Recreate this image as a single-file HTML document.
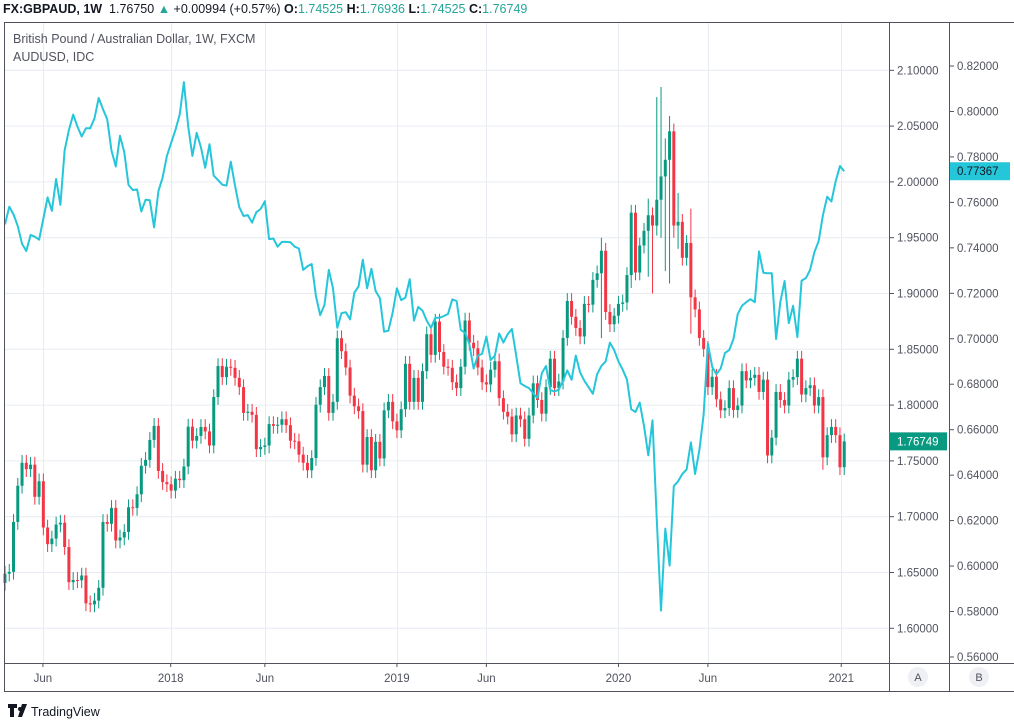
<!DOCTYPE html>
<html><head><meta charset="utf-8">
<style>
html,body{margin:0;padding:0;background:#fff;}
body{width:1014px;height:725px;overflow:hidden;font-family:"Liberation Sans",sans-serif;position:relative;}
.hdr{position:absolute;left:3px;top:2px;font-size:12.5px;color:#131722;white-space:nowrap;}
.hdr b{font-weight:bold}
.g{color:#26a69a}
.leg{position:absolute;left:13px;font-size:12.5px;color:#50535e;white-space:nowrap;}
svg{position:absolute;left:0;top:0;}
</style></head>
<body>
<div class="hdr"><b>FX:GBPAUD, 1W</b>&nbsp; 1.76750 <span class="g">&#9650;</span> +0.00994 (+0.57%) <b>O:</b><span class="g">1.74525</span> <b>H:</b><span class="g">1.76936</span> <b>L:</b><span class="g">1.74525</span> <b>C:</b><span class="g">1.76749</span></div>
<svg id="chart" width="1014" height="725"></svg>
<div class="leg" style="top:32px">British Pound / Australian Dollar, 1W, FXCM</div>
<div class="leg" style="top:50px">AUDUSD, IDC</div>
<script>
const firstOpen = 1.6407;
const closes = [1.6489,1.6506,1.6953,1.7277,1.7483,1.7426,1.7466,1.7178,1.7317,1.6903,1.6754,1.6804,1.6930,1.6946,1.6728,1.6413,1.6433,1.6430,1.6473,1.6224,1.6214,1.6248,1.6363,1.6953,1.6936,1.7079,1.6787,1.6814,1.6863,1.7085,1.7079,1.7201,1.7456,1.7509,1.7688,1.7814,1.7410,1.7310,1.7291,1.7234,1.7340,1.7327,1.7450,1.7807,1.7681,1.7724,1.7804,1.7764,1.7638,1.8072,1.8350,1.8251,1.8344,
1.8334,1.8244,1.8161,1.7930,1.7940,1.7913,1.7605,1.7625,1.7638,1.7830,1.7814,1.7824,1.7873,1.7820,1.7681,1.7675,1.7556,1.7483,1.7416,1.7526,1.8003,1.8161,1.8261,1.7930,1.8029,1.8599,1.8483,1.8337,1.8085,1.7989,1.7946,1.7466,1.7714,1.7416,1.7671,1.7522,1.7953,1.8029,1.7854,1.7774,1.7963,1.8370,1.8029,1.8244,1.8029,1.8304,1.8635,1.8450,1.8748,1.8476,1.8344,1.8334,1.8205,
1.8152,1.8344,1.8758,1.8559,1.8509,1.8337,1.8205,1.8185,1.8317,1.8393,1.8062,1.7940,1.7897,1.7738,1.7907,1.7873,1.7698,1.7907,1.8195,1.8046,1.7923,1.8161,1.8416,1.8152,1.8211,1.8602,1.8933,1.8791,1.8691,1.8615,1.8907,1.8900,1.9122,1.9181,1.9383,1.8834,1.8724,1.8801,1.8907,1.8920,1.9165,1.9724,1.9188,1.9430,1.9562,1.9701,1.9609,1.9840,2.0049,2.0198,2.0453,1.9609,1.9642,
1.9320,1.9453,1.8966,1.8857,1.8602,1.8503,1.8161,1.8254,1.8052,1.7953,1.7973,1.8152,1.7956,1.7996,1.8304,1.8221,1.8244,1.8271,1.8118,1.8228,1.7549,1.7708,1.8118,1.8046,1.7996,1.8228,1.8251,1.8416,1.8095,1.8152,1.8178,1.7996,1.8072,1.7532,1.7731,1.7804,1.7731,1.7443,1.7675];
const spikeIdx = [140,147,151,152,153,154,155,156,157,158,161,179,192];
const spikeHigh = [1.9500,1.9760,1.9850,1.9700,2.0760,2.0850,2.0390,2.0590,2.0430,1.9900,1.9760,1.8300,1.8100];
const spikeLow = [1.8600,1.9050,1.9150,1.9000,1.9520,1.9500,1.9200,1.9090,1.9500,1.9400,1.8640,1.7480,1.7420];
const audusd = [0.7503,0.7581,0.7547,0.7495,0.7418,0.7386,0.7457,0.7449,0.7436,0.7527,0.7622,0.7563,0.7703,0.7589,0.7828,0.7918,0.7986,0.7934,0.7890,0.7926,0.7926,0.7970,0.8059,0.8010,0.7966,0.7828,0.7758,0.7893,0.7820,0.7677,0.7654,0.7657,0.7560,0.7612,0.7609,0.7490,0.7649,0.7709,0.7804,0.7861,0.7918,0.7986,0.8129,0.7934,0.7804,0.7906,0.7841,0.7752,0.7856,0.7718,0.7698,0.7678,0.7674,
0.7779,0.7674,0.7579,0.7540,0.7544,0.7511,0.7557,0.7571,0.7605,0.7438,0.7441,0.7405,0.7426,0.7426,0.7425,0.7405,0.7397,0.7303,0.7319,0.7329,0.7186,0.7104,0.7150,0.7303,0.7222,0.7048,0.7113,0.7117,0.7085,0.7202,0.7231,0.7348,0.7222,0.7308,0.7210,0.7178,0.7031,0.7036,0.7116,0.7222,0.7170,0.7181,0.7262,0.7080,0.7140,0.7124,0.7080,0.7048,0.7092,0.7092,0.7100,0.7109,0.7173,
0.7166,0.7039,0.7026,0.6978,0.6869,0.6926,0.6934,0.7010,0.6906,0.6926,0.7023,0.6983,0.7020,0.7043,0.6926,0.6804,0.6792,0.6783,0.6760,0.6739,0.6848,0.6880,0.6774,0.6768,0.6776,0.6815,0.6861,0.6820,0.6926,0.6852,0.6815,0.6787,0.6758,0.6844,0.6880,0.6901,0.6983,0.6950,0.6901,0.6864,0.6820,0.6690,0.6678,0.6719,0.6617,0.6487,0.6641,0.6202,0.5804,0.6165,0.6002,0.6352,0.6373,
0.6405,0.6425,0.6544,0.6405,0.6511,0.6665,0.6978,0.6877,0.6844,0.6869,0.6937,0.6950,0.6999,0.7108,0.7145,0.7161,0.7174,0.7161,0.7384,0.7291,0.7288,0.7288,0.6999,0.7161,0.7254,0.7069,0.7145,0.7007,0.7256,0.7267,0.7303,0.7381,0.7430,0.7543,0.7625,0.7604,0.7693,0.7760,0.7737];
const gbpTicks = ["2.10000","2.05000","2.00000","1.95000","1.90000","1.85000","1.80000","1.75000","1.70000","1.65000","1.60000"];
const audTicks = ["0.82000","0.80000","0.78000","0.76000","0.74000","0.72000","0.70000","0.68000","0.66000","0.64000","0.62000","0.60000","0.58000","0.56000"];
const timeLabels = ["Jun","2018","Jun","2019","Jun","2020","Jun","2021"];
const timeIdx = [8.9,38.9,61,92,113,144,165,196.3];

const NS="http://www.w3.org/2000/svg";
const svg=document.getElementById('chart');
function mk(tag,attrs,parent){const e=document.createElementNS(NS,tag);for(const k in attrs)e.setAttribute(k,attrs[k]);(parent||svg).appendChild(e);return e;}
const xOf=i=>5+i*4.26;
const yG=p=>70.3+(2.10-p)*1116;
const yA=a=>66+(0.82-a)*2273;
const PL=4,PR=889,PT=22,PB=663;

const grid=mk('g',{});


gbpTicks.forEach(t=>{const y=yG(parseFloat(t));mk('line',{x1:PL,x2:PR,y1:y,y2:y,stroke:'#e6ecf2','stroke-width':1},grid);});
timeIdx.forEach(i=>{const x=Math.round(xOf(i))+0.5;mk('line',{x1:x,x2:x,y1:PT,y2:PB,stroke:'#e6ecf2','stroke-width':1},grid);});

const cg=mk('g',{});


let prev=firstOpen;
closes.forEach((c,i)=>{
  const o=prev; prev=c;
  const up=c>=o; const col=up?'#089981':'#f23645';
  const x=xOf(i);
  let hi=Math.max(o,c)+0.007, lo=Math.min(o,c)-0.007;
  const s=spikeIdx.indexOf(i);
  if(s>=0){hi=Math.max(hi,spikeHigh[s]);lo=Math.min(lo,spikeLow[s]);}
  const w=mk('line',{x1:x,x2:x,y1:yG(hi),y2:yG(lo),stroke:col,'stroke-width':1},cg);
  
  
  const yt=yG(Math.max(o,c)), yb=yG(Math.min(o,c));
  const b=mk('rect',{x:x-1.5,y:yt,width:3,height:Math.max(1,yb-yt),fill:col},cg);
  
  
});

const pts=audusd.map((a,i)=>xOf(i).toFixed(1)+','+yA(a).toFixed(1)).join(' ');
const ln=mk('polyline',{points:pts,fill:'none',stroke:'#26c6da','stroke-width':2,'stroke-linejoin':'round'});



const fr=mk('g',{stroke:'#50535e','stroke-width':1,fill:'none'});


mk('line',{x1:4.5,x2:4.5,y1:22,y2:692},fr);
mk('line',{x1:4,x2:1014,y1:22.5,y2:22.5},fr);
mk('line',{x1:4,x2:1014,y1:663.5,y2:663.5},fr);
mk('line',{x1:4,x2:1014,y1:691.5,y2:691.5},fr);
mk('line',{x1:889.5,x2:889.5,y1:22,y2:692},fr);
mk('line',{x1:949.5,x2:949.5,y1:22,y2:692},fr);

const ga=mk('g',{});


gbpTicks.forEach(t=>{const y=yG(parseFloat(t));
  mk('line',{x1:889,x2:894,y1:y,y2:y,stroke:'#50535e'},ga);
  const tx=mk('text',{x:897,y:y+4,'font-size':11.5,fill:'#50535e','font-family':'Liberation Sans, sans-serif'},ga);tx.textContent=t;
  
  
});
const aa=mk('g',{});


audTicks.forEach(t=>{const y=yA(parseFloat(t));
  mk('line',{x1:949,x2:954,y1:y,y2:y,stroke:'#50535e'},aa);
  const tx=mk('text',{x:957,y:y+4,'font-size':11.5,fill:'#50535e','font-family':'Liberation Sans, sans-serif'},aa);tx.textContent=t;
  
  
});
const lastG=closes[closes.length-1], lastA=audusd[audusd.length-1];
const gl=mk('g',{});


mk('rect',{x:889,y:yG(lastG)-9,width:58,height:18,fill:'#089981'},gl);
let t1=mk('text',{x:897,y:yG(lastG)+4,'font-size':11.5,fill:'#fff','font-family':'Liberation Sans, sans-serif'},gl);t1.textContent=lastG===1.7675?'1.76749':lastG.toFixed(5);
const al=mk('g',{});


mk('rect',{x:950,y:yA(lastA)-9,width:60,height:18,fill:'#26c6da'},al);
let t2=mk('text',{x:957,y:yA(lastA)+4,'font-size':11.5,fill:'#131722','font-family':'Liberation Sans, sans-serif'},al);t2.textContent=lastA===0.7737?'0.77367':lastA.toFixed(5);

const ta=mk('g',{});


timeLabels.forEach((l,k)=>{const x=xOf(timeIdx[k]);
  mk('line',{x1:x,x2:x,y1:663,y2:667,stroke:'#50535e'},ta);
  const tx=mk('text',{x:x,y:682,'font-size':11.5,fill:'#50535e','text-anchor':'middle','font-family':'Liberation Sans, sans-serif'},ta);tx.textContent=l;
  
  
});
[['A',918,'auto-scale-button-a'],['B',979,'scale-button-b']].forEach(([l,x,n])=>{
  const g=mk('g',{});
  
  
  mk('circle',{cx:x,cy:677,r:10,fill:'#eef0f4'},g);
  const tx=mk('text',{x:x,y:681,'font-size':11,fill:'#50535e','text-anchor':'middle','font-family':'Liberation Sans, sans-serif'},g);tx.textContent=l;
});
const lg=mk('g',{});


mk('path',{d:'M8 704 h9 v4 h-3 v9 h-4 v-9 h-2 z',fill:'#131722'},lg);
mk('circle',{cx:20,cy:709,r:2,fill:'#131722'},lg);
mk('path',{d:'M22 704 h5 l-5 13 h-4 z',fill:'#131722'},lg);
const lt=mk('text',{x:31,y:716,'font-size':12.5,fill:'#131722','font-family':'Liberation Sans, sans-serif'},lg);lt.textContent='TradingView';
</script>
</body></html>
